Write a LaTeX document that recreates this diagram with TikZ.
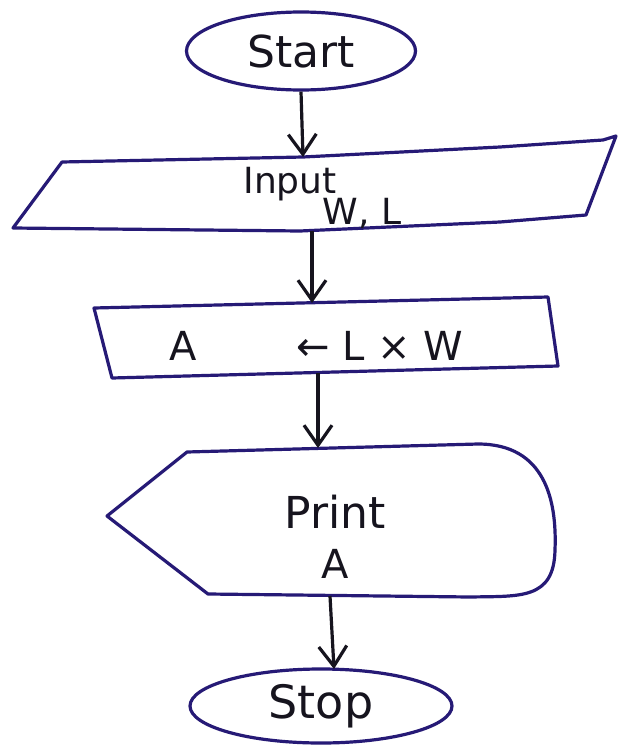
\documentclass[tikz,border=0pt]{standalone}
\usepackage{fontspec}
\setmainfont{DejaVu Sans}
\usetikzlibrary{arrows.meta,shapes.geometric}
\definecolor{inkblue}{RGB}{38,26,118}
\definecolor{inkblack}{RGB}{22,20,30}
\tikzset{
  outline/.style={draw=inkblue, line width=3.2pt, line join=round},
  flow/.style={draw=inkblack, line width=3.2pt,
    -{Straight Barb[length=20pt,width=28pt,line width=3.2pt]}},
  label/.style={text=inkblack, inner sep=0pt},
  terminal/.style={ellipse, outline, label, inner sep=0pt}
}
\begin{document}
\begin{tikzpicture}[x=1pt,y=-1pt]
\useasboundingbox (0,0) rectangle (620,747);
\fill[white] (0,0) rectangle (620,747);

% terminals
\node[terminal, minimum width=229pt, minimum height=78pt,
      font=\fontsize{44}{50}\selectfont] (start) at (301,51) {Start};
\node[terminal, minimum width=262pt, minimum height=74pt,
      font=\fontsize{46}{52}\selectfont] (stop) at (321,706) {Stop};
\coordinate (stopTop) at (334,669);

% input parallelogram
\draw[outline] (62,162) -- (303,157) -- (500,147) -- (603,140) -- (616,136)
  -- (586,215) -- (500,222) -- (300,231) -- (13,228) -- cycle;
\node[label, font=\fontsize{36}{40}\selectfont] (inA) at (290,184) {Input};
\node[label, font=\fontsize{36}{40}\selectfont] (inB) at (362,213) {W, L};
\coordinate (inTop) at (303,157);
\coordinate (inBot) at (312,231);

% process box
\draw[outline] (94,308) -- (548,297) -- (558,366) -- (112,378) -- cycle;
\node[label, font=\fontsize{40}{44}\selectfont] (procA) at (183,346) {A};
\node[label, font=\fontsize{40}{44}\selectfont] (procB) at (380,346) {← L × W};
\coordinate (procTop) at (312,303);
\coordinate (procBot) at (318,373);

% display shape
\draw[outline] (107,516) -- (187,452) -- (478,444)
  .. controls (545,444) and (557,500) .. (555,550)
  .. controls (554,600) and (520,596) .. (470,597)
  -- (208,594) -- cycle;
\node[label, font=\fontsize{44}{48}\selectfont] (outA) at (335,512) {Print};
\node[label, font=\fontsize{40}{44}\selectfont] (outB) at (335,564) {A};
\coordinate (outTop) at (318,448);
\coordinate (outBot) at (330,596);

% connectors
\draw[flow] (start.south) -- (inTop);
\draw[flow] (inBot) -- (procTop);
\draw[flow] (procBot) -- (outTop);
\draw[flow] (outBot) -- (stopTop);
\end{tikzpicture}
\end{document}
